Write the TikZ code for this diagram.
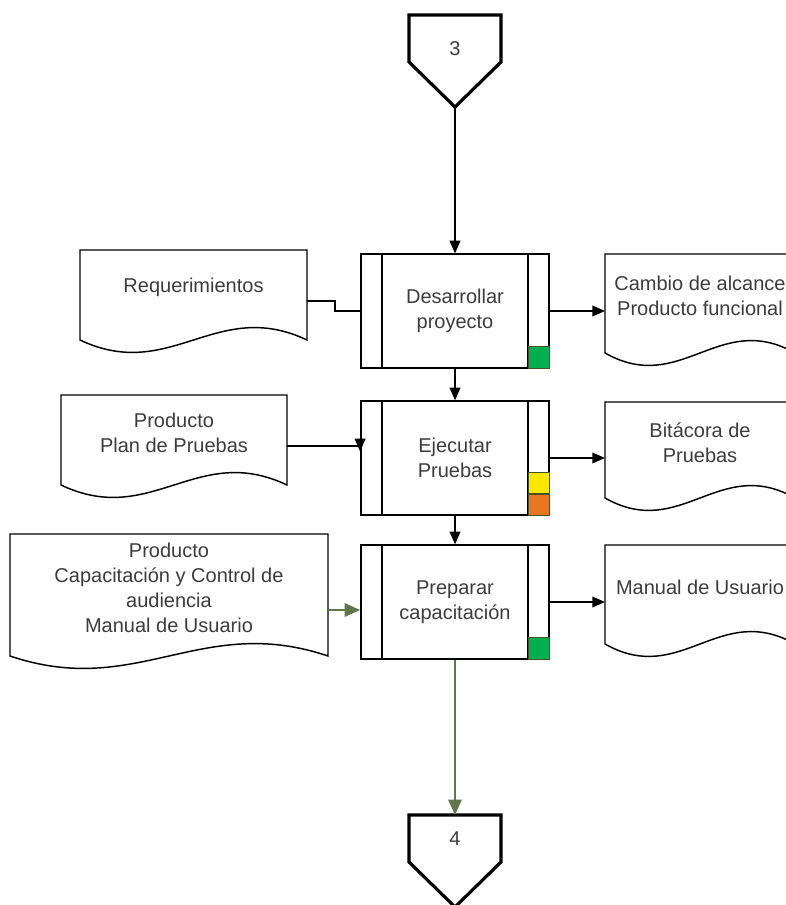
\documentclass[tikz,border=0pt]{standalone}
\usepackage{fontspec}
\setmainfont{Liberation Sans}
\usepackage{xcolor}
\usetikzlibrary{arrows.meta,calc,positioning}
\definecolor{textgray}{RGB}{60,60,60}
\definecolor{flowgreen}{RGB}{98,118,78}
\definecolor{stgreen}{RGB}{0,176,80}
\definecolor{styellow}{RGB}{255,232,0}
\definecolor{storange}{RGB}{232,118,34}
\definecolor{stborder}{RGB}{70,80,40}

\newcommand{\diagfont}{\fontsize{15}{18.75}\selectfont}

\tikzset{
    procbox/.style={draw=black, line width=1.4pt, minimum width=141pt, minimum height=85pt, inner sep=0pt, align=center, font=\diagfont, text=textgray},
    docbody/.style={inner sep=0pt, outer sep=0pt, align=center, font=\diagfont, text=textgray},
    docline/.style={draw=black, line width=1.1pt},
    offpage/.style={minimum width=69pt, minimum height=35.25pt, inner sep=0pt, outer sep=0pt, font=\diagfont, text=textgray},
    status/.style={draw=stborder, line width=0.8pt, minimum size=16pt, inner sep=0pt},
    flow/.style={draw=black, line width=1.2pt, -{Triangle[length=9.5pt, width=8pt]}},
    greenflow/.style={draw=flowgreen, line width=1.5pt, -{Triangle[length=11.5pt, width=10pt]}}
}

% document symbol: body node plus wavy bottom edge
\newcommand{\docshape}[1]{%
    \draw[docline] ($(#1.south west)+(0,15)$) -- (#1.north west) -- (#1.north east) -- ($(#1.south east)+(0,15)$)
        .. controls ($(#1.south west)!0.6!(#1.south east)+(0,-28)$) and ($(#1.south west)!0.4!(#1.south east)+(0,58)$) .. ($(#1.south west)+(0,15)$) -- cycle;
}

% predefined process: the two side bars
\newcommand{\sidebars}[1]{%
    \draw[line width=1.4pt] ($(#1.north west)+(22,0)$) -- ($(#1.south west)+(22,0)$);
    \draw[line width=1.4pt] ($(#1.north east)+(-22,0)$) -- ($(#1.south east)+(-22,0)$);
}

% off-page connector outline, with its tip as a coordinate
\newcommand{\offpageshape}[1]{%
    \draw[line width=2.4pt, line join=miter] (#1.north west) -- (#1.north east) -- (#1.south east) -- ($(#1.south)+(0,45)$) -- (#1.south west) -- cycle;
    \coordinate (#1tip) at ($(#1.south)+(0,45)$);
}

\begin{document}
\begin{tikzpicture}[x=0.75pt, y=-0.75pt]

\useasboundingbox (0,0) rectangle (785,905);

% Off-page connector in
\node[offpage] (OFF3) at (455, 38.5) {\smash{\raisebox{-12.9pt}{3}}};
\offpageshape{OFF3}

% 1. Desarrollar proyecto
\node[procbox] (DEV) at (455, 311) {Desarrollar\\proyecto};
\sidebars{DEV}
\node[status, fill=stgreen, anchor=south east] (DEV_ST) at (DEV.south east) {};

\node[docbody, minimum width=170.25pt, minimum height=56.25pt] (REQ) at (193.5, 287.5) {Requerimientos};
\docshape{REQ}

\node[docbody, minimum width=142.5pt, minimum height=63pt] (SCOPE) at (700, 296) {Cambio de alcance\\Producto funcional};
\docshape{SCOPE}

% 2. Ejecutar Pruebas
\node[procbox] (TEST) at (455, 458) {Ejecutar\\Pruebas};
\sidebars{TEST}
\node[status, fill=storange, anchor=south east, minimum size=15.5pt] (TEST_ST1) at (TEST.south east) {};
\node[status, fill=styellow, anchor=south east, minimum size=15.5pt] (TEST_ST2) at (TEST_ST1.north east) {};

\node[docbody, minimum width=169.5pt, minimum height=56.25pt] (PLAN) at (174, 432.5) {Producto\\Plan de Pruebas};
\docshape{PLAN}

\node[docbody, minimum width=142.5pt, minimum height=60.75pt] (LOG) at (700, 442.5) {Bitácora de\\Pruebas};
\docshape{LOG}

% 3. Preparar capacitación
\node[procbox] (PREP) at (455, 602) {Preparar\\capacitación};
\sidebars{PREP}
\node[status, fill=stgreen, anchor=south east] (PREP_ST) at (PREP.south east) {};

\node[docbody, minimum width=238.5pt, minimum height=80.25pt] (TRAIN) at (169, 587.5) {Producto\\Capacitación y Control de\\audiencia\\Manual de Usuario};
\docshape{TRAIN}

\node[docbody, minimum width=142.5pt, minimum height=63pt] (MANUAL) at (700, 587) {Manual de Usuario};
\docshape{MANUAL}

% Off-page connector out
\node[offpage] (OFF4) at (455, 838.5) {4};
\offpageshape{OFF4}

% Connections
\draw[flow] (OFF3tip) -- (DEV.north);
\draw[line width=1.2pt] ($(REQ.east)+(0,13.5)$) -- ++(28,0) |- (DEV.west);
\draw[flow] (DEV.east) -- (DEV.east -| SCOPE.west);
\draw[flow] (DEV.south) -- (TEST.north);

\draw[flow] ($(PLAN.east)+(0,13.5)$) -| ($(TEST.north west)+(0,51)$);
\draw[flow] (TEST.east) -- (TEST.east -| LOG.west);
\draw[flow] (TEST.south) -- (PREP.north);

\draw[greenflow] ($(TRAIN.east)+(0,22.5)$) -- ($(PREP.west)+(0,8)$);
\draw[flow] (PREP.east) -- (PREP.east -| MANUAL.west);
\draw[greenflow] (PREP.south) -- (OFF4.north);

\end{tikzpicture}
\end{document}
